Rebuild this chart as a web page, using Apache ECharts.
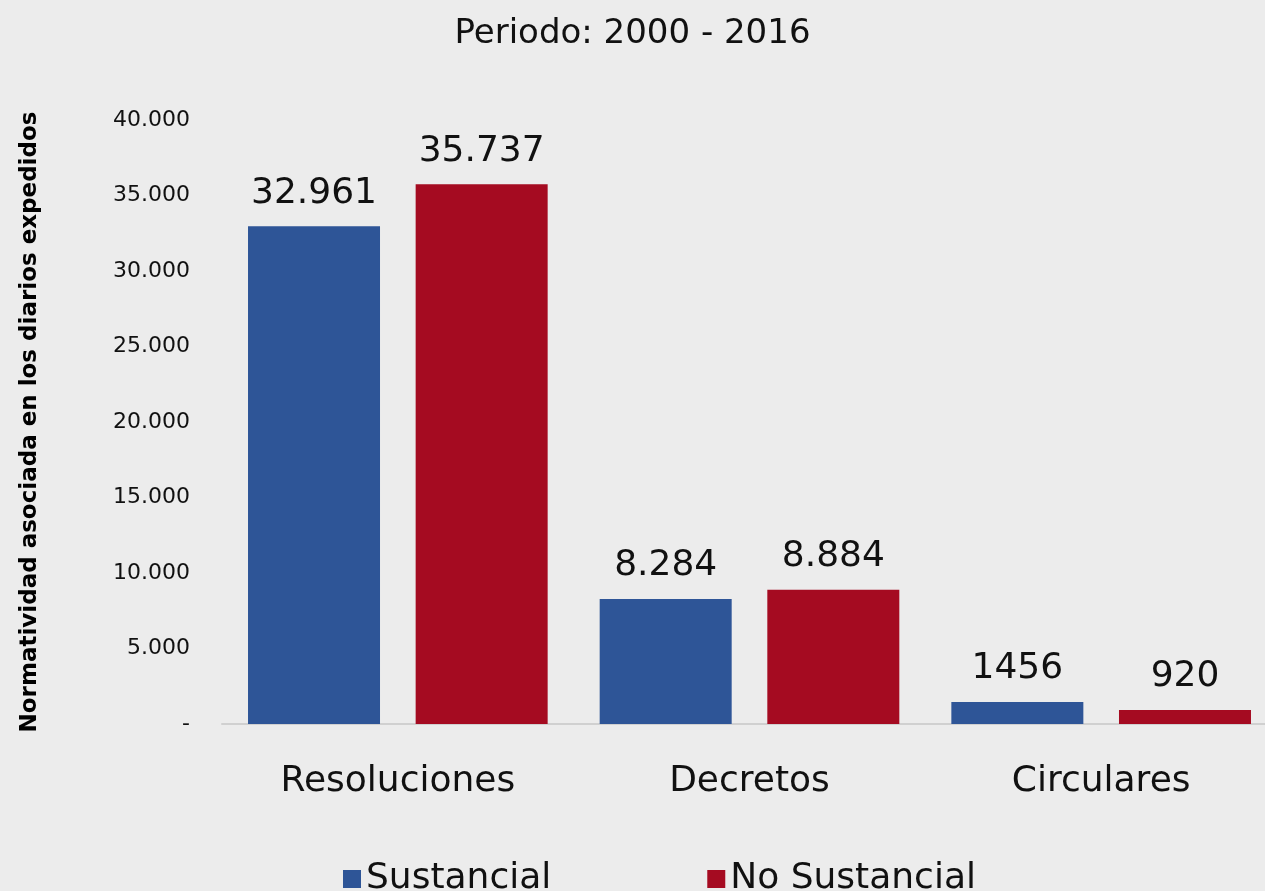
<!DOCTYPE html>
<html>
<head>
<meta charset="utf-8">
<script src="https://cdn.jsdelivr.net/npm/echarts@6/dist/echarts.min.js"></script>
<style>
  html, body { margin: 0; padding: 0; background: #ececec; }
  #chart { width: 1265px; height: 891px; }
</style>
</head>
<body>
<div id="chart"></div>
<script>
// datos
const categorias = ["Resoluciones", "Decretos", "Circulares"];
const sustancial = [32961, 8284, 1456];
const noSustancial = [35737, 8884, 920];
// etiquetas tal como aparecen en la imagen
const etiquetasSust = ["32.961", "8.284", "1456"];
const etiquetasNoSust = ["35.737", "8.884", "920"];

const fuente = "DejaVu Sans";

const chart = echarts.init(document.getElementById("chart"));
chart.setOption({
  backgroundColor: "#ececec",
  textStyle: { fontFamily: fuente },
  title: {
    text: "Periodo: 2000 - 2016",
    left: "center",
    top: 12,
    textStyle: { fontFamily: fuente, fontSize: 34, fontWeight: "normal", color: "#111" }
  },
  legend: {
    bottom: -6,
    left: 343,
    padding: 0,
    itemWidth: 18,
    itemHeight: 18,
    itemGap: 156,
    icon: "rect",
    textStyle: { fontFamily: fuente, fontSize: 36, color: "#111" },
    data: ["Sustancial", "No Sustancial"]
  },
  grid: {
    left: 222,
    top: 120,
    bottom: 167,
    width: 1055,
    outerBoundsMode: "none"
  },
  xAxis: {
    type: "category",
    data: categorias,
    axisLine: { lineStyle: { color: "#d0d0d0", width: 2 } },
    axisTick: { show: false },
    axisLabel: { fontFamily: fuente, fontSize: 36, color: "#111", margin: 40 }
  },
  yAxis: {
    type: "value",
    min: 0,
    max: 40000,
    interval: 5000,
    name: "Normatividad asociada en los diarios expedidos",
    nameLocation: "middle",
    nameRotate: 90,
    nameGap: 180,
    nameTextStyle: { fontFamily: fuente, fontSize: 23, fontWeight: "bold", color: "#000" },
    splitLine: { show: false },
    axisLine: { show: false },
    axisTick: { show: false },
    axisLabel: {
      fontFamily: fuente,
      fontSize: 22,
      color: "#111",
      margin: 32,
      formatter: function (v) {
        if (v === 0) return "-";
        return String(v).replace(/\B(?=(\d{3})+(?!\d))/g, ".");
      }
    }
  },
  series: [
    {
      name: "Sustancial",
      type: "bar",
      data: sustancial,
      barWidth: 132,
      barGap: "27%",
      itemStyle: { color: "#2e5597" },
      label: {
        show: true,
        position: "top",
        distance: 15,
        fontFamily: fuente,
        fontSize: 36,
        color: "#111",
        formatter: function (p) { return etiquetasSust[p.dataIndex]; }
      }
    },
    {
      name: "No Sustancial",
      type: "bar",
      data: noSustancial,
      barWidth: 132,
      itemStyle: { color: "#a50b21" },
      label: {
        show: true,
        position: "top",
        distance: 15,
        fontFamily: fuente,
        fontSize: 36,
        color: "#111",
        formatter: function (p) { return etiquetasNoSust[p.dataIndex]; }
      }
    }
  ]
});
</script>
</body>
</html>
